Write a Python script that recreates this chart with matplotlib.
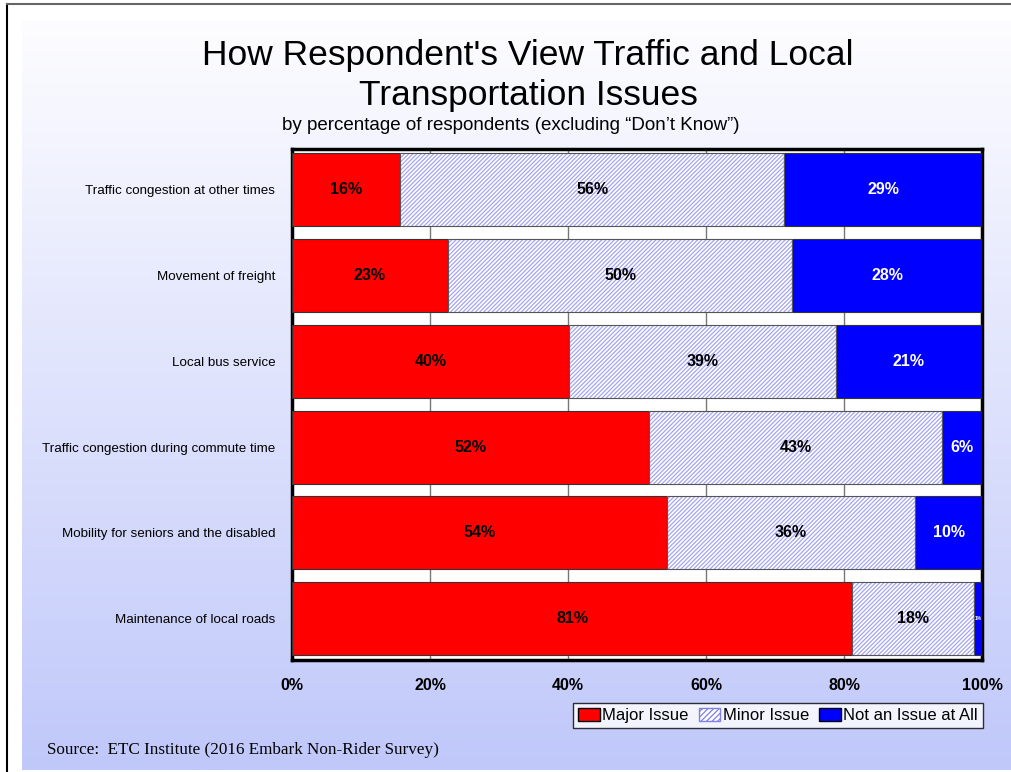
import matplotlib
matplotlib.use("Agg")
import matplotlib.pyplot as plt
import numpy as np
from matplotlib.patches import Patch

plt.rcParams["font.family"] = ["Liberation Sans", "DejaVu Sans"]
plt.rcParams["hatch.linewidth"] = 0.9

categories = [
    "Traffic congestion at other times",
    "Movement of freight",
    "Local bus service",
    "Traffic congestion during commute time",
    "Mobility for seniors and the disabled",
    "Maintenance of local roads",
]
major = [15.7, 22.6, 40.1, 51.7, 54.3, 81.2]
minor = [55.6, 49.9, 38.7, 42.5, 36.0, 17.6]
not_issue = [28.7, 27.5, 21.2, 5.8, 9.7, 1.2]
major_lbl = ["16%", "23%", "40%", "52%", "54%", "81%"]
minor_lbl = ["56%", "50%", "39%", "43%", "36%", "18%"]
not_lbl = ["29%", "28%", "21%", "6%", "10%", "1%"]
xticks = [0, 20, 40, 60, 80, 100]

fig = plt.figure(figsize=(10.12, 7.72), dpi=100)

# gradient background
bg = fig.add_axes([22 / 1012, 2 / 772, 1 - 22 / 1012, 750 / 772])
top_c = np.array([253, 253, 255]) / 255
bot_c = np.array([192, 200, 250]) / 255
t = np.linspace(0, 1, 256)[:, None]
grad = top_c[None, :] * (1 - t) + bot_c[None, :] * t
bg.imshow(np.repeat(grad[:, None, :], 2, axis=1), aspect="auto", extent=[0, 1, 0, 1])
bg.axis("off")

# frame lines
fig.add_artist(plt.Line2D([7 / 1012, 7 / 1012], [0, 1 - 4 / 772], color="black", lw=1.5))
fig.add_artist(plt.Line2D([7 / 1012, 1], [1 - 4 / 772, 1 - 4 / 772], color="#666666", lw=1.5))

ax = fig.add_axes([292 / 1012, 1 - 660 / 772, 690 / 1012, 511 / 772])
ax.set_facecolor("white")
y = np.arange(len(categories))
h = 0.85
major = np.array(major)
minor = np.array(minor)
not_issue = np.array(not_issue)

ax.barh(y, major, height=h, color="#ff0000", edgecolor="#333333", lw=0.8, zorder=3)
ax.barh(y, minor, left=major, height=h, color="white", edgecolor="#a4a4f4",
        hatch="////////", lw=0, zorder=3)
ax.barh(y, minor, left=major, height=h, color="none", edgecolor="#555555", lw=0.8, zorder=4)
ax.barh(y, not_issue, left=major + minor, height=h, color="#0000ff",
        edgecolor="#333333", lw=0.8, zorder=3)

for i in range(len(categories)):
    ax.text(major[i] / 2, y[i], major_lbl[i], ha="center", va="center",
            fontsize=11.5, fontweight="bold", color="black", zorder=5)
    ax.text(major[i] + minor[i] / 2, y[i], minor_lbl[i], ha="center", va="center",
            fontsize=11.5, fontweight="bold", color="black", zorder=5)
    fs = 11.5 if not_issue[i] > 3 else 3.5
    ax.text(major[i] + minor[i] + not_issue[i] / 2, y[i], not_lbl[i], ha="center",
            va="center", fontsize=fs, fontweight="bold", color="white", zorder=5)

ax.set_xlim(0, 100)
ax.set_ylim(5.48, -0.47)
ax.set_xticks(xticks)
ax.set_xticklabels([f"{v}%" for v in xticks], fontsize=11.5, fontweight="bold")
ax.set_yticks(y)
ax.set_yticklabels(categories, fontsize=9.6)
ax.tick_params(axis="x", length=0, pad=13)
ax.tick_params(axis="y", length=0, pad=12)
ax.xaxis.grid(True, color="#777777", lw=1, zorder=0)
ax.set_axisbelow(True)
for s in ax.spines.values():
    s.set_linewidth(2.5)
    s.set_color("black")

fig.text(528 / 1012, 1 - 56 / 772, "How Respondent's View Traffic and Local",
         ha="center", va="center", fontsize=25.5)
fig.text(528 / 1012, 1 - 95 / 772, "Transportation Issues",
         ha="center", va="center", fontsize=25.5)
fig.text(511 / 1012, 1 - 125 / 772,
         "by percentage of respondents (excluding \u201cDon\u2019t Know\u201d)",
         ha="center", va="center", fontsize=13.5)
fig.text(47 / 1012, 1 - 750 / 772, "Source:  ETC Institute (2016 Embark Non-Rider Survey)",
         ha="left", va="center", fontsize=12.3, family=["Liberation Serif", "DejaVu Serif"])

handles = [
    Patch(facecolor="#ff0000", edgecolor="black", label="Major Issue"),
    Patch(facecolor="white", edgecolor="#8080e8", hatch="//////", label="Minor Issue"),
    Patch(facecolor="#0000ff", edgecolor="black", label="Not an Issue at All"),
]
leg = fig.legend(handles=handles, loc="upper right", bbox_to_anchor=(983 / 1012, 1 - 703 / 772),
                 ncol=3, fontsize=12, frameon=True, fancybox=False, handlelength=1.3,
                 handleheight=0.8, handletextpad=0.15, columnspacing=0.6, borderpad=0.3,
                 borderaxespad=0)
leg.get_frame().set_edgecolor("black")
leg.get_frame().set_linewidth(1)

fig.savefig("out.png", dpi=100)
